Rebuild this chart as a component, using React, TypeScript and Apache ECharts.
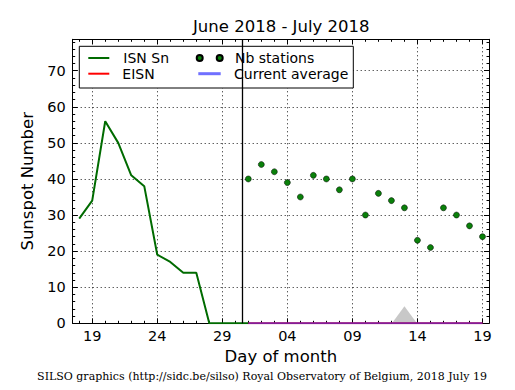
import React, { useEffect, useRef } from "react";
import * as echarts from "echarts";

// Day of month for each index (June 18 2018 .. July 19 2018)
const dayOfMonth = [18, 19, 20, 21, 22, 23, 24, 25, 26, 27, 28, 29, 30, 1, 2, 3, 4, 5, 6, 7, 8, 9, 10, 11, 12, 13, 14, 15, 16, 17, 18, 19];
// ISN Sn daily values from June 18
const isnSn = [29, 34, 56, 50, 41, 38, 19, 17, 14, 14, 0, 0, 0, 0];
// Number of stations from July 1
const nbStations = [40, 44, 42, 39, 35, 41, 40, 37, 40, 30, 36, 34, 32, 23, 21, 32, 30, 27, 24];
// EISN from July 1
const eisn = [0, 0, 0, 0, 0, 0, 0, 0, 0, 0, 0, 0, 0, 0, 0, 0, 0, 0, 0];
// Current average from July 1
const currentAverage = [0, 0, 0, 0, 0, 0, 0, 0, 0, 0, 0, 0, 0, 0, 0, 0, 0, 0, 0];
// Labelled x ticks (indices into dayOfMonth)
const xMajorTicks = [1, 6, 11, 16, 21, 26, 31];
const yMajorTicks = [0, 10, 20, 30, 40, 50, 60, 70];
// Grey marker day (July 13) and month separator position
const markerDayIndex = 25;
const monthSplit = 12.5;

const Y_MAX = 78.7;
const X_MIN = -0.5;
const X_MAX = dayOfMonth.length - 0.5;
const julyStart = dayOfMonth.indexOf(1);

const xMinorTicks = dayOfMonth.map((_, i) => i);
const yMinorTicks: number[] = [];
for (let v = 2; v < Y_MAX; v += 2) yMinorTicks.push(v);

const FONT = "DejaVu Sans";
const BLACK = "#000";

function xAxisDef(position: string, ticks: number[], len: number, main: boolean): any {
  return {
    type: "value",
    min: X_MIN,
    max: X_MAX,
    position,
    axisLine: { show: main, onZero: false, lineStyle: { color: BLACK, width: 1 } },
    axisTick: { show: true, inside: true, length: len, customValues: ticks, lineStyle: { color: BLACK, width: 1 } },
    axisLabel: { show: false },
    splitLine: { show: false },
  };
}
function yAxisDef(position: string, ticks: number[], len: number, main: boolean): any {
  return {
    type: "value",
    min: 0,
    max: Y_MAX,
    position,
    axisLine: { show: main, onZero: false, lineStyle: { color: BLACK, width: 1 } },
    axisTick: { show: true, inside: true, length: len, customValues: ticks, lineStyle: { color: BLACK, width: 1 } },
    axisLabel: { show: false },
    splitLine: { show: false },
  };
}

const gridLine = { show: true, lineStyle: { color: BLACK, width: 0.9, type: [1, 3] } };

export default function App() {
  const ref = useRef<HTMLDivElement>(null);
  useEffect(() => {
    if (!ref.current) return;
    const chart = echarts.init(ref.current, null, { renderer: "svg" });

    const xMain = xAxisDef("bottom", xMajorTicks, 5, true);
    xMain.axisLabel = {
      show: true,
      customValues: xMajorTicks,
      formatter: (v: number) => String(dayOfMonth[Math.round(v)]).padStart(2, "0"),
      color: BLACK,
      fontSize: 14.5,
      fontFamily: FONT,
      margin: 5,
    };
    xMain.splitLine = gridLine;
    xMain.name = "Day of month";
    xMain.nameLocation = "middle";
    xMain.nameGap = 25;
    xMain.nameTextStyle = { color: BLACK, fontSize: 16.5, fontFamily: FONT };

    const yMain = yAxisDef("left", yMajorTicks, 5, true);
    yMain.axisLabel = {
      show: true,
      customValues: yMajorTicks,
      color: BLACK,
      fontSize: 14.5,
      fontFamily: FONT,
      margin: 7,
    };
    yMain.splitLine = gridLine;
    yMain.name = "Sunspot Number";
    yMain.nameLocation = "middle";
    yMain.nameGap = 33;
    yMain.nameTextStyle = { color: BLACK, fontSize: 16.5, fontFamily: FONT };

    const legendText = (pad: number) => ({
      color: BLACK,
      fontSize: 14,
      fontFamily: FONT,
      rich: { p: { padding: [0, 0, 0, pad], color: BLACK, fontSize: 14, fontFamily: FONT } },
    });
    const legendBase = { orient: "horizontal", padding: 0, selectedMode: false, formatter: "{p|{name}}" };

    chart.setOption({
      animation: false,
      backgroundColor: "#fff",
      textStyle: { fontFamily: FONT },
      title: {
        text: "June 2018 - July 2018",
        left: 193,
        top: 18,
        padding: 0,
        textStyle: { color: BLACK, fontSize: 16.5, fontWeight: "normal", fontFamily: FONT },
      },
      grid: { left: 72.7, top: 39.3, width: 416.3, height: 284, containLabel: false, outerBoundsMode: "none" },
      xAxis: [
        xMain,
        xAxisDef("bottom", xMinorTicks, 2.5, false),
        xAxisDef("top", xMajorTicks, 5, true),
        xAxisDef("top", xMinorTicks, 2.5, false),
      ],
      yAxis: [
        yMain,
        yAxisDef("left", yMinorTicks, 2.5, false),
        yAxisDef("right", yMajorTicks, 5, true),
        yAxisDef("right", yMinorTicks, 2.5, false),
      ],
      legend: [
        { ...legendBase, left: 88.3, top: 51, itemWidth: 21, itemHeight: 2, itemStyle: { borderWidth: 0 }, data: [{ name: "ISN Sn", icon: "rect" }], textStyle: legendText(9) },
        { ...legendBase, left: 88.3, top: 66.7, itemWidth: 21, itemHeight: 2, itemStyle: { borderWidth: 0 }, data: [{ name: "EISN", icon: "rect" }], textStyle: legendText(8) },
        {
          ...legendBase, left: 195.7, top: 51, itemWidth: 26, itemHeight: 6,
          data: [{ name: "Nb stations", icon: "path://M0,3a3,3 0 1,0 6,0a3,3 0 1,0 -6,0Z M20,3a3,3 0 1,0 6,0a3,3 0 1,0 -6,0Z", itemStyle: { opacity: 1 } }],
          textStyle: legendText(7.3),
        },
        { ...legendBase, left: 198.3, top: 66.7, itemWidth: 22.4, itemHeight: 3, itemStyle: { borderWidth: 0 }, data: [{ name: "Current average", icon: "rect" }], textStyle: legendText(8.3) },
      ],
      graphic: [
        { type: "rect", z: 3, shape: { x: 79.3, y: 46.3, width: 274, height: 41.7 }, style: { fill: "#fff", stroke: BLACK, lineWidth: 1 } },
        {
          type: "text", x: 262, y: 376,
          style: { text: "SILSO graphics (http://sidc.be/silso) Royal Observatory of Belgium, 2018 July 19", fill: BLACK, font: '11px "DejaVu Serif"', align: "center", verticalAlign: "middle" },
        },
      ],
      series: [
        {
          name: "moon", type: "scatter", xAxisIndex: 0, yAxisIndex: 0, silent: true, z: 1,
          symbol: "triangle", symbolSize: [25, 17], symbolOffset: [0, "-50%"],
          itemStyle: { color: "#c8c8c8", opacity: 1 },
          data: [[markerDayIndex, 0]],
        },
        {
          name: "ISN Sn", type: "line", xAxisIndex: 0, yAxisIndex: 0, showSymbol: false, symbol: "none",
          color: "#006b00", lineStyle: { color: "#006b00", width: 2 },
          data: isnSn.map((v, i) => [i, v]),
          markLine: {
            silent: true, symbol: "none", label: { show: false },
            lineStyle: { color: BLACK, width: 1.3, type: "solid" },
            data: [{ xAxis: monthSplit }],
          },
        },
        {
          name: "EISN", type: "line", xAxisIndex: 0, yAxisIndex: 0, showSymbol: false, symbol: "none",
          color: "#ff0000", lineStyle: { color: "#ff0000", width: 2 },
          data: eisn.map((v, i) => [i + julyStart, v]),
        },
        {
          name: "Current average", type: "line", xAxisIndex: 0, yAxisIndex: 0, showSymbol: false, symbol: "none",
          color: "#7070ff", lineStyle: { color: "#3030ff", width: 2, opacity: 0.6 },
          data: currentAverage.map((v, i) => [i + julyStart, v]),
        },
        {
          name: "Nb stations", type: "scatter", xAxisIndex: 0, yAxisIndex: 0, symbol: "circle", symbolSize: 6,
          color: "#0a800a", itemStyle: { color: "#0a800a", borderColor: "#000", borderWidth: 0.5, opacity: 1 },
          data: nbStations.map((v, i) => [i + julyStart, v]),
        },
      ],
    });
    return () => chart.dispose();
  }, []);
  return <div ref={ref} style={{ position: "fixed", left: 0, top: 0, width: 515, height: 390 }} />;
}
